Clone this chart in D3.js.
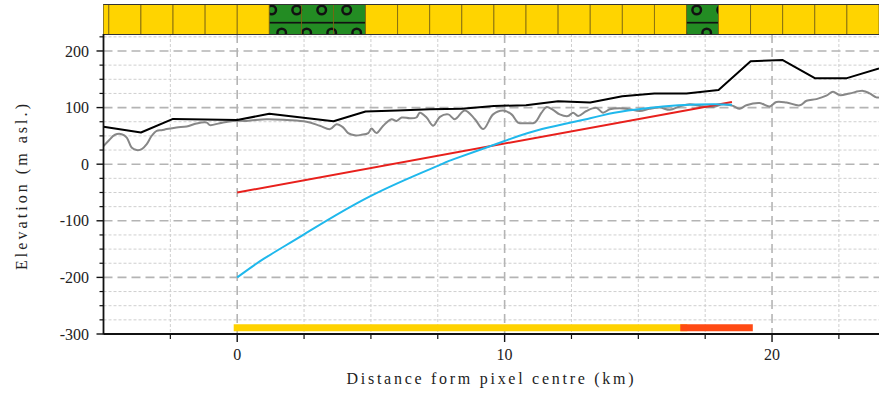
<!DOCTYPE html>
<html>
<head>
<meta charset="utf-8">
<script src="https://cdn.jsdelivr.net/npm/d3@7"></script>
<style>
  body { margin: 0; background: #fff; }
  svg { display: block; }
  text { font-family: "Liberation Serif", "DejaVu Serif", serif; fill: #222; }
</style>
</head>
<body>
<div id="chart"></div>
<script>
const width = 879, height = 394;

// land cover strip: one entry per 1.2 km cell, starting at -6 km
const cellSize = 1.2;
const cellStart = -6;
const cellTypes = ["open","open","open","open","open","open","forest","forest","forest",
  "open","open","open","open","open","open","open","open","open","open",
  "forest","open","open","open","open","open"];

// coarse elevation (black)
const coarseX = [-5, -3.6, -2.4, 0, 1.2, 3.6, 4.8, 6.0, 7.2, 8.4, 9.6, 10.8, 12.0, 13.2, 14.4, 15.6, 16.8, 18.0, 19.2, 20.4, 21.6, 22.8, 24];
const coarseY = [66, 56, 80, 78, 89, 76, 93, 95, 97, 98, 103, 104, 111, 109, 120, 125, 125, 131, 182, 184, 152, 152, 169];

// detailed elevation profile (grey)
const profileX = [-5, -4.82, -4.57, -4.32, -4.13, -3.95, -3.76, -3.57, -3.39, -3.2, -3.01, -2.83, -2.64, -2.27, -1.89, -1.52, -1.14, -1.02, -0.65, -0.15,
  0.35, 1.1, 1.85, 2.59, 3.09, 3.47, 3.72, 3.96, 4.15, 4.4, 4.65, 4.9, 5.02, 5.21, 5.46, 5.77, 5.96, 6.15, 6.46, 6.7, 6.83, 7.08, 7.33, 7.58, 7.89, 8.14,
  8.51, 8.89, 9.2, 9.57, 9.94, 10.26, 10.5, 10.82, 11.13, 11.38, 11.57, 11.81, 12.06, 12.37, 12.56, 12.75, 13.06, 13.43, 13.68, 13.93, 14.3, 14.68,
  15.05, 15.43, 15.8, 16.18, 16.55, 16.92, 17.3, 17.8, 18.17, 18.54, 18.79, 19.04, 19.54, 19.91, 20.16, 20.54, 21.04, 21.29, 21.66, 22.03, 22.28,
  22.53, 22.9, 23.4, 23.65, 23.9, 24];
const profileY = [32, 41, 52, 53, 47, 29.5, 25, 26.5, 35, 50, 59, 60, 62, 65, 66.5, 72, 73.5, 69, 72.5, 76.5,
  76.5, 79.5, 78, 75, 68, 62, 70.7, 65, 55, 51, 52, 55, 63, 55, 68, 79.5, 76.5, 82.5, 81, 82.5, 91, 82.5, 68, 83.6, 88, 79.5,
  95, 79.5, 62, 88, 95, 88, 73.6, 72.4, 73.6, 91, 101, 96, 88, 85, 91, 85, 94, 99.5, 91, 97, 99, 97,
  94, 98, 100, 96, 102, 106, 103, 101, 106, 103, 98, 104, 108, 102, 110, 109, 104, 112, 115, 121, 128,
  122, 125, 129.5, 125, 118, 118];

// curved line (cyan)
const curveX = [0, 1, 2.5, 5, 7.5, 8.1, 10, 11.4, 13.2, 14.1, 15.3, 16.5, 17.8, 18.5];
const curveY = [-200, -167, -124, -56, -3, 9, 41, 62, 81, 91, 99, 104, 106, 105];

// straight line (red)
const straightX = [0, 18.5];
const straightY = [-50, 110];

// bottom bars
const barStart = [0, 16.7];
const barEnd = [16.7, 19.15];
const barColors = ["#ffd200", "#ff4a14"];
const barLevel = -289;

const yMajor = [-300, -200, -100, 0, 100, 200];
const yTickLabels = ["-300", "-200", "-100", "0", "100", "200"];
const xMajor = [0, 10, 20];
const xTickLabels = ["0", "10", "20"];

const margin = {left: 103.5, right: 0, top: 34, bottom: 334};

const x = d3.scaleLinear().domain([-5, 24]).range([margin.left, width - margin.right]);
const y = d3.scaleLinear().domain([-300, 230]).range([margin.bottom, margin.top]);

const svg = d3.select("#chart").append("svg")
    .attr("width", width)
    .attr("height", height);

const defs = svg.append("defs");
defs.append("clipPath").attr("id", "plotClip")
  .append("rect")
    .attr("x", margin.left).attr("y", margin.top)
    .attr("width", width - margin.left).attr("height", margin.bottom - margin.top);

// forest hatch: circles + horizontal line
const pat = defs.append("pattern")
    .attr("id", "forest")
    .attr("patternUnits", "userSpaceOnUse")
    .attr("x", 0).attr("y", 0)
    .attr("width", 25).attr("height", 40);
pat.append("rect").attr("width", 25).attr("height", 40).attr("fill", "#238c23");
[[21.7, 10], [-3.3, 10], [6.7, 33]].forEach(c => {
  pat.append("circle").attr("cx", c[0]).attr("cy", c[1]).attr("r", 4.3)
    .attr("fill", "none").attr("stroke", "#111").attr("stroke-width", 2.5);
});
pat.append("line").attr("x1", 0).attr("x2", 25).attr("y1", 22.7).attr("y2", 22.7)
  .attr("stroke", "#111").attr("stroke-width", 1.7);

// grid
const yMinor = d3.range(-275, 230, 25).filter(v => v % 100 !== 0);
const xMinor = d3.range(-2.5, 24, 2.5).filter(v => v % 10 !== 0);

const grid = svg.append("g");
grid.selectAll(".hminor").data(yMinor).join("line")
  .attr("x1", margin.left).attr("x2", width)
  .attr("y1", d => y(d)).attr("y2", d => y(d))
  .attr("stroke", "#cfcfcf").attr("stroke-width", 1).attr("stroke-dasharray", "3,2");
grid.selectAll(".vminor").data(xMinor).join("line")
  .attr("x1", d => x(d)).attr("x2", d => x(d))
  .attr("y1", margin.top).attr("y2", margin.bottom)
  .attr("stroke", "#cfcfcf").attr("stroke-width", 1).attr("stroke-dasharray", "3,2");
grid.selectAll(".hmajor").data(yMajor.filter(v => v > -300)).join("line")
  .attr("x1", margin.left).attr("x2", width)
  .attr("y1", d => y(d)).attr("y2", d => y(d))
  .attr("stroke", "#b4b4b4").attr("stroke-width", 1.6).attr("stroke-dasharray", "9,5");
grid.selectAll(".vmajor").data(xMajor).join("line")
  .attr("x1", d => x(d)).attr("x2", d => x(d))
  .attr("y1", margin.top).attr("y2", margin.bottom)
  .attr("stroke", "#b4b4b4").attr("stroke-width", 1.6).attr("stroke-dasharray", "9,5");

// lines
const plot = svg.append("g").attr("clip-path", "url(#plotClip)");

function drawLine(xs, ys, color, curve) {
  const pts = xs.map((d, i) => [d, ys[i]]);
  plot.append("path")
    .datum(pts)
    .attr("fill", "none")
    .attr("stroke", color)
    .attr("stroke-width", 2)
    .attr("stroke-linejoin", "round")
    .attr("d", d3.line().x(d => x(d[0])).y(d => y(d[1])).curve(curve || d3.curveLinear));
}

drawLine(profileX, profileY, "#878787", d3.curveCatmullRom);
drawLine(coarseX, coarseY, "#000");
drawLine(straightX, straightY, "#e8201c");
drawLine(curveX, curveY, "#1fb8ec", d3.curveNatural);

// bottom bars
plot.selectAll(".bar").data(barStart).join("line")
  .attr("x1", (d, i) => x(d)).attr("x2", (d, i) => x(barEnd[i]))
  .attr("y1", y(barLevel)).attr("y2", y(barLevel))
  .attr("stroke", (d, i) => barColors[i])
  .attr("stroke-width", 7)
  .attr("stroke-linecap", "square");

// land cover strip
const band = svg.append("g");
const bandTop = 4.5, bandBottom = 34.5;
band.selectAll("rect").data(cellTypes).join("rect")
  .attr("x", (d, i) => Math.max(x(cellStart + i * cellSize), margin.left))
  .attr("width", (d, i) => x(cellStart + (i + 1) * cellSize) - Math.max(x(cellStart + i * cellSize), margin.left))
  .attr("y", bandTop).attr("height", bandBottom - bandTop)
  .attr("fill", d => d === "forest" ? "url(#forest)" : "#ffd400")
  .attr("stroke", "#7a6410").attr("stroke-width", 0.8);
band.append("line").attr("x1", margin.left).attr("x2", width).attr("y1", bandTop).attr("y2", bandTop)
  .attr("stroke", "#333").attr("stroke-width", 1.2);
band.append("line").attr("x1", margin.left).attr("x2", width).attr("y1", bandBottom).attr("y2", bandBottom)
  .attr("stroke", "#333").attr("stroke-width", 1.2);

// axes
const axes = svg.append("g").attr("stroke", "#111");
axes.append("line").attr("x1", margin.left).attr("x2", margin.left)
  .attr("y1", margin.top).attr("y2", margin.bottom + 0.5).attr("stroke-width", 1.8);
axes.append("line").attr("x1", margin.left).attr("x2", width)
  .attr("y1", margin.bottom).attr("y2", margin.bottom).attr("stroke-width", 1.8);

axes.selectAll(".ytm").data(yMajor).join("line")
  .attr("x1", margin.left - 7).attr("x2", margin.left)
  .attr("y1", d => y(d)).attr("y2", d => y(d)).attr("stroke-width", 1.4);
axes.selectAll(".ytn").data(yMinor).join("line")
  .attr("x1", margin.left - 4).attr("x2", margin.left)
  .attr("y1", d => y(d)).attr("y2", d => y(d)).attr("stroke-width", 1.2);
axes.selectAll(".xtm").data(xMajor).join("line")
  .attr("x1", d => x(d)).attr("x2", d => x(d))
  .attr("y1", margin.bottom).attr("y2", margin.bottom + 8).attr("stroke-width", 1.4);
axes.selectAll(".xtn").data(xMinor).join("line")
  .attr("x1", d => x(d)).attr("x2", d => x(d))
  .attr("y1", margin.bottom).attr("y2", margin.bottom + 5).attr("stroke-width", 1.2);

svg.append("g").selectAll("text").data(yMajor).join("text")
  .attr("x", 89).attr("y", d => y(d))
  .attr("dy", "0.35em")
  .attr("text-anchor", "end")
  .style("font-size", "16px")
  .text((d, i) => yTickLabels[i]);

svg.append("g").selectAll("text").data(xMajor).join("text")
  .attr("x", d => x(d)).attr("y", 360)
  .attr("text-anchor", "middle")
  .style("font-size", "16px")
  .text((d, i) => xTickLabels[i]);

svg.append("text")
  .attr("x", 490).attr("y", 384)
  .attr("text-anchor", "middle")
  .attr("textLength", 287)
  .style("font-size", "16px")
  .text("Distance form pixel centre (km)");

svg.append("text")
  .attr("transform", "translate(27,187) rotate(-90)")
  .attr("text-anchor", "middle")
  .attr("textLength", 166)
  .style("font-size", "16px")
  .text("Elevation (m asl.)");
</script>
</body>
</html>
